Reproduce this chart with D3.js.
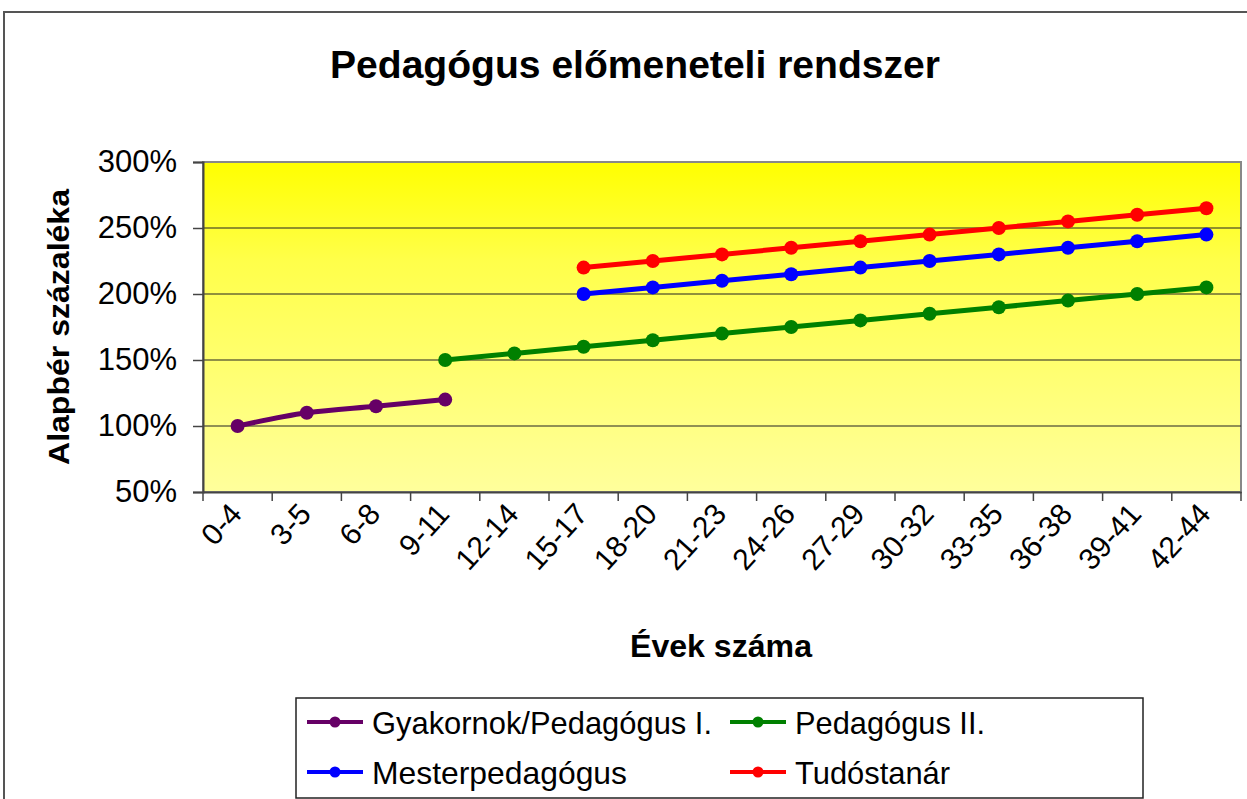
<!DOCTYPE html>
<html><head><meta charset="utf-8">
<script src="https://cdn.jsdelivr.net/npm/d3@7"></script>
<style>
html,body{margin:0;padding:0;background:#fff;}
svg{display:block;font-family:"Liberation Sans",Arial,sans-serif;}
</style></head>
<body>
<svg id="chart" width="1247" height="799"></svg>
<script>
const categories = ["0-4","3-5","6-8","9-11","12-14","15-17","18-20","21-23","24-26","27-29","30-32","33-35","36-38","39-41","42-44"];
const gyakornok = [100,110,115,120,null,null,null,null,null,null,null,null,null,null,null];
const pedagogus2 = [null,null,null,150,155,160,165,170,175,180,185,190,195,200,205];
const mester = [null,null,null,null,null,200,205,210,215,220,225,230,235,240,245];
const tudos = [null,null,null,null,null,220,225,230,235,240,245,250,255,260,265];
const yTicks = [50,100,150,200,250,300];
const seriesNames = ["Gyakornok/Pedagógus I.","Pedagógus II.","Mesterpedagógus","Tudóstanár"];
const seriesColors = ["#660066","#008000","#0000FF","#FF0000"];
const seriesValues = [gyakornok, pedagogus2, mester, tudos];

const svg = d3.select("#chart");
const L = 203, R = 1241, T = 162, B = 492;
const x = d3.scaleBand().domain(categories).range([L, R]).padding(0);
const y = d3.scaleLinear().domain([50, 300]).range([B, T]);

// outer chart border
svg.append("rect").attr("x",4).attr("y",12).attr("width",1300).attr("height",900)
  .attr("fill","#fff").attr("stroke","#555").attr("stroke-width",2);

// gradient background
const defs = svg.append("defs");
const grad = defs.append("linearGradient").attr("id","bg").attr("x1",0).attr("y1",0).attr("x2",0).attr("y2",1);
grad.append("stop").attr("offset","0%").attr("stop-color","#FFFF00");
grad.append("stop").attr("offset","30%").attr("stop-color","#FFFF4A");
grad.append("stop").attr("offset","100%").attr("stop-color","#FFFF9C");
svg.append("rect").attr("x",L).attr("y",T).attr("width",R-L).attr("height",B-T).attr("fill","url(#bg)")
  .attr("stroke","#888").attr("stroke-width",2);

// gridlines
svg.append("g").selectAll("line").data(yTicks.filter(d=>d>50 && d<300)).join("line")
  .attr("x1",L).attr("x2",R).attr("y1",d=>y(d)).attr("y2",d=>y(d))
  .attr("stroke","#222").attr("stroke-width",1.2);

// y axis
const yAxis = svg.append("g").attr("transform",`translate(${L},0)`)
  .call(d3.axisLeft(y).tickValues(yTicks).tickSize(10).tickPadding(16).tickFormat(d=>d+"%"));
yAxis.select(".domain").attr("stroke","#444").attr("stroke-width",2);
yAxis.selectAll(".tick line").attr("stroke","#444").attr("stroke-width",1.5);
yAxis.selectAll("text").attr("font-size",31).attr("fill","#000").attr("font-family","'Liberation Sans',Arial,sans-serif");

// x axis
const xAxis = svg.append("g").attr("transform",`translate(0,${B})`)
  .call(d3.axisBottom(x).tickSize(0).tickPadding(0));
xAxis.select(".domain").attr("stroke","#444").attr("stroke-width",2);
xAxis.selectAll(".tick text")
  .attr("font-size",30).attr("fill","#000").attr("font-family","'Liberation Sans',Arial,sans-serif")
  .attr("text-anchor","end")
  .attr("transform","translate(-2,16) rotate(-48)")
  .attr("dy","0.35em").attr("y",0).attr("x",0);
const bounds = categories.map(c=>x(c)).concat([x(categories[categories.length-1])+x.bandwidth()]);
svg.append("g").selectAll("line").data(bounds).join("line")
  .attr("x1",d=>d).attr("x2",d=>d).attr("y1",B).attr("y2",B+9)
  .attr("stroke","#444").attr("stroke-width",1.5);

// series
const cx = c => x(c) + x.bandwidth()/2;
seriesValues.forEach((vals,i)=>{
  const pts = categories.map((c,j)=>({c, v: vals[j]})).filter(d=>d.v!==null);
  const line = d3.line().x(d=>cx(d.c)).y(d=>y(d.v))
    .curve(i===0 ? d3.curveCardinal.tension(0) : d3.curveLinear);
  svg.append("path").datum(pts).attr("d",line).attr("fill","none")
    .attr("stroke",seriesColors[i]).attr("stroke-width",5).attr("stroke-linejoin","round");
  svg.append("g").selectAll("circle").data(pts).join("circle")
    .attr("cx",d=>cx(d.c)).attr("cy",d=>y(d.v)).attr("r",7).attr("fill",seriesColors[i]);
});

// title
svg.append("text").attr("x",635).attr("y",78).attr("text-anchor","middle")
  .attr("font-size",38).attr("font-weight","bold").attr("textLength",610).attr("lengthAdjust","spacingAndGlyphs")
  .text("Pedagógus előmeneteli rendszer");
// axis titles
svg.append("text").attr("x",721).attr("y",657).attr("text-anchor","middle")
  .attr("font-size",31).attr("font-weight","bold").attr("textLength",182).attr("lengthAdjust","spacingAndGlyphs")
  .text("Évek száma");
svg.append("text").attr("transform","translate(69,327) rotate(-90)").attr("text-anchor","middle")
  .attr("font-size",30).attr("font-weight","bold").attr("textLength",276).attr("lengthAdjust","spacingAndGlyphs")
  .text("Alapbér százaléka");

// legend
svg.append("rect").attr("x",296).attr("y",698).attr("width",847).attr("height",100)
  .attr("fill","#fff").attr("stroke","#222").attr("stroke-width",1.5);
const legPos = [[307,722],[730,722],[307,772],[730,772]];
const legW = [340,190,255,155];
seriesNames.forEach((n,i)=>{
  const [lx,ly] = legPos[i];
  svg.append("line").attr("x1",lx).attr("x2",lx+56).attr("y1",ly).attr("y2",ly)
    .attr("stroke",seriesColors[i]).attr("stroke-width",4);
  svg.append("circle").attr("cx",lx+28).attr("cy",ly).attr("r",5.5).attr("fill",seriesColors[i]);
  svg.append("text").attr("x",lx+65).attr("y",ly).attr("dy","0.36em")
    .attr("font-size",32).attr("textLength",legW[i]).attr("lengthAdjust","spacingAndGlyphs")
    .text(n);
});
</script>
</body></html>
